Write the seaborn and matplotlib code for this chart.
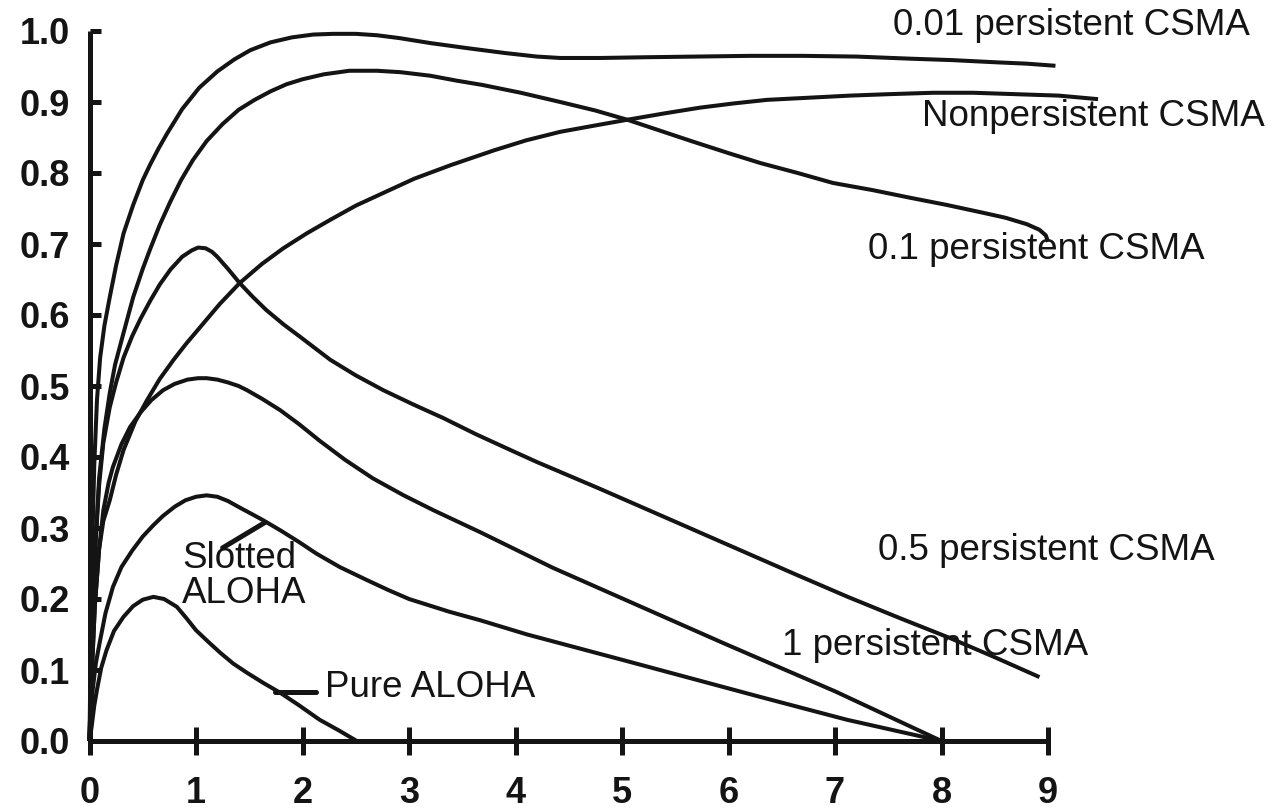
import matplotlib
matplotlib.use("Agg")
import matplotlib.pyplot as plt
import seaborn as sns
import pandas as pd

# ---- data ----
x_ticks = [0, 1, 2, 3, 4, 5, 6, 7, 8, 9]
y_ticks = [0.0, 0.1, 0.2, 0.3, 0.4, 0.5, 0.6, 0.7, 0.8, 0.9, 1.0]

p001_x = [0, 0.01, 0.025, 0.045, 0.07, 0.1, 0.14, 0.19, 0.25, 0.32, 0.41, 0.5, 0.57, 0.65, 0.73, 0.87,
          1.03, 1.2, 1.36, 1.51, 1.7, 1.9, 2.1, 2.29, 2.5, 2.7, 2.91, 3.2, 3.54, 3.9, 4.2, 4.42, 4.8,
          5.2, 5.7, 6.2, 6.7, 7.2, 7.71, 8.1, 8.5, 8.8, 9.07]
p001_y = [0, 0.12, 0.27, 0.39, 0.48, 0.54, 0.585, 0.625, 0.67, 0.715, 0.755, 0.79, 0.812, 0.835, 0.856,
          0.89, 0.92, 0.943, 0.96, 0.973, 0.984, 0.991, 0.995, 0.996, 0.996, 0.994, 0.99, 0.983, 0.976,
          0.969, 0.964, 0.962, 0.962, 0.963, 0.964, 0.965, 0.965, 0.964, 0.961, 0.959, 0.956, 0.954, 0.951]

p01_x = [0, 0.02, 0.05, 0.09, 0.14, 0.19, 0.24, 0.32, 0.41, 0.5, 0.57, 0.66, 0.76, 0.86, 0.97, 1.1,
         1.25, 1.4, 1.55, 1.7, 1.85, 2.0, 2.2, 2.44, 2.7, 2.92, 3.2, 3.45, 3.69, 4.05, 4.42, 4.75, 5.05,
         5.35, 5.65, 6.0, 6.3, 6.65, 6.98, 7.35, 7.71, 8.05, 8.39, 8.6, 8.8, 8.92, 8.98, 9.0]
p01_y = [0, 0.12, 0.26, 0.37, 0.44, 0.49, 0.53, 0.575, 0.625, 0.665, 0.693, 0.727, 0.76, 0.79, 0.818,
         0.845, 0.869, 0.889, 0.903, 0.915, 0.925, 0.932, 0.939, 0.944, 0.944, 0.942, 0.937, 0.93, 0.924,
         0.913, 0.90, 0.888, 0.875, 0.86, 0.845, 0.828, 0.814, 0.8, 0.786, 0.776, 0.765, 0.755, 0.744,
         0.737, 0.728, 0.72, 0.712, 0.703]

nonp_x = [0, 0.02, 0.05, 0.09, 0.13, 0.19, 0.25, 0.32, 0.43, 0.54, 0.66, 0.79, 0.91, 1.04, 1.22, 1.41,
          1.62, 1.82, 2.04, 2.26, 2.5, 2.76, 3.05, 3.39, 3.8, 4.1, 4.42, 4.75, 5.05, 5.4, 5.73, 6.05,
          6.36, 6.75, 7.14, 7.5, 7.92, 8.3, 8.7, 9.1, 9.47]
nonp_y = [0, 0.09, 0.19, 0.27, 0.31, 0.339, 0.375, 0.41, 0.45, 0.48, 0.51, 0.537, 0.56, 0.583, 0.615,
          0.645, 0.672, 0.694, 0.715, 0.734, 0.754, 0.772, 0.792, 0.811, 0.832, 0.846, 0.858, 0.867,
          0.875, 0.884, 0.892, 0.898, 0.903, 0.906, 0.909, 0.911, 0.913, 0.913, 0.911, 0.909, 0.904]

p05_x = [0, 0.02, 0.05, 0.09, 0.13, 0.19, 0.25, 0.32, 0.4, 0.48, 0.57, 0.66, 0.76, 0.87, 0.96, 1.02,
         1.09, 1.15, 1.2, 1.3, 1.41, 1.53, 1.66, 1.82, 1.98, 2.12, 2.26, 2.5, 2.76, 3.04, 3.32, 3.63,
         3.95, 4.2, 4.78, 5.36, 6.0, 6.64, 7.12, 7.61, 8.08, 8.5, 8.92]
p05_y = [0, 0.13, 0.26, 0.36, 0.42, 0.47, 0.505, 0.54, 0.57, 0.595, 0.62, 0.643, 0.664, 0.682, 0.691,
         0.695, 0.694, 0.689, 0.682, 0.665, 0.645, 0.626, 0.607, 0.587, 0.569, 0.553, 0.537, 0.515,
         0.494, 0.474, 0.455, 0.432, 0.41, 0.393, 0.356, 0.318, 0.276, 0.234, 0.203, 0.173, 0.145,
         0.118, 0.09]

p1_x = [0, 0.02, 0.05, 0.09, 0.13, 0.18, 0.22, 0.3, 0.38, 0.48, 0.58, 0.69, 0.8, 0.92, 1.02, 1.1, 1.2,
        1.3, 1.4, 1.48, 1.62, 1.79, 1.97, 2.16, 2.4, 2.66, 2.95, 3.23, 3.67, 4.35, 5.15, 5.95, 6.32,
        7.0, 7.5, 8.0]
p1_y = [0, 0.09, 0.19, 0.27, 0.325, 0.364, 0.386, 0.418, 0.442, 0.463, 0.48, 0.494, 0.503, 0.509,
        0.511, 0.511, 0.509, 0.505, 0.5, 0.494, 0.482, 0.466, 0.446, 0.423, 0.396, 0.37, 0.346, 0.325,
        0.294, 0.244, 0.191, 0.138, 0.114, 0.07, 0.035, 0.0]

slot_x = [0, 0.01, 0.03, 0.06, 0.1, 0.15, 0.22, 0.3, 0.4, 0.5, 0.6, 0.69, 0.8, 0.9, 1.0, 1.1, 1.2,
          1.3, 1.42, 1.52, 1.63, 1.8, 1.97, 2.13, 2.35, 2.6, 2.8, 3.0, 3.38, 3.67, 4.11, 5.01, 6.3,
          7.11, 8.0]
slot_y = [0, 0.03, 0.072, 0.11, 0.142, 0.18, 0.217, 0.245, 0.268, 0.288, 0.304, 0.317, 0.33, 0.339,
          0.344, 0.346, 0.344, 0.338, 0.328, 0.32, 0.311, 0.296, 0.28, 0.264, 0.245, 0.227, 0.213, 0.2,
          0.182, 0.17, 0.15, 0.114, 0.062, 0.03, 0.0]

pure_x = [0, 0.02, 0.045, 0.07, 0.11, 0.16, 0.23, 0.32, 0.41, 0.5, 0.6, 0.7, 0.82, 0.91, 1.0, 1.12,
          1.23, 1.35, 1.48, 1.63, 1.79, 1.97, 2.16, 2.34, 2.51]
pure_y = [0, 0.02, 0.05, 0.072, 0.103, 0.128, 0.155, 0.175, 0.19, 0.199, 0.203, 0.2, 0.189, 0.173,
          0.156, 0.139, 0.124, 0.109, 0.096, 0.082, 0.068, 0.05, 0.03, 0.015, 0.0]

slot_lead_x = [1.25, 1.65]
slot_lead_y = [0.272, 0.308]
pure_lead_x = [1.74, 2.13]
pure_lead_y = [0.069, 0.069]

labels = ["0.01 persistent CSMA", "Nonpersistent CSMA", "0.1 persistent CSMA",
          "0.5 persistent CSMA", "1 persistent CSMA", "Slotted\nALOHA", "Pure ALOHA"]
label_x = [7.54, 7.82, 7.31, 7.40, 6.50, 0.87, 2.21]
label_y = [1.008, 0.879, 0.692, 0.268, 0.135, 0.232, 0.076]

# ---- figure ----
sns.set_theme(style="white")
plt.rcParams['font.family'] = ['Liberation Sans', 'DejaVu Sans']

fig = plt.figure(figsize=(12.76, 8.10), dpi=100)
ax = fig.add_axes([89.5 / 1276, 1 - 741 / 810, (1048 - 89.5) / 1276, (741 - 31) / 810])

ink = "#141414"
curves = [(p001_x, p001_y), (p01_x, p01_y), (nonp_x, nonp_y), (p05_x, p05_y),
          (p1_x, p1_y), (slot_x, slot_y), (pure_x, pure_y)]
for cx, cy in curves:
    df = pd.DataFrame({"x": cx, "y": cy})
    sns.lineplot(data=df, x="x", y="y", ax=ax, color=ink, linewidth=2.9, sort=False,
                 estimator=None, clip_on=False, solid_joinstyle="round", solid_capstyle="butt")

for lx, ly in [(slot_lead_x, slot_lead_y), (pure_lead_x, pure_lead_y)]:
    sns.lineplot(x=lx, y=ly, ax=ax, color=ink, linewidth=3.6, sort=False, estimator=None,
                 clip_on=False)

for t, tx, ty in zip(labels, label_x, label_y):
    ax.text(tx, ty, t, fontsize=26.5, color=ink, ha="left", va="center",
            linespacing=1.0, clip_on=False)

ax.set_xlim(0, 9)
ax.set_ylim(0, 1.0)
ax.set_xticks(x_ticks)
ax.set_xticklabels([str(v) for v in x_ticks])
ax.set_yticks(y_ticks)
ax.set_yticklabels([f"{v:.1f}" for v in y_ticks])
ax.set_xlabel("")
ax.set_ylabel("")

for side in ["top", "right"]:
    ax.spines[side].set_visible(False)
for side in ["left", "bottom"]:
    ax.spines[side].set_linewidth(3.6)
    ax.spines[side].set_color(ink)
    ax.spines[side].set_capstyle("butt")

ax.tick_params(axis="y", direction="in", length=8, width=3.6, color=ink, pad=14,
               labelsize=26, labelcolor=ink, left=True)
ax.tick_params(axis="x", direction="inout", length=20, width=3.6, color=ink, pad=15,
               labelsize=26, labelcolor=ink, bottom=True)
for lab in ax.get_xticklabels() + ax.get_yticklabels():
    lab.set_fontweight("bold")

ax.set_facecolor("white")
fig.patch.set_facecolor("white")
fig.savefig("out.png", dpi=100, facecolor="white")
